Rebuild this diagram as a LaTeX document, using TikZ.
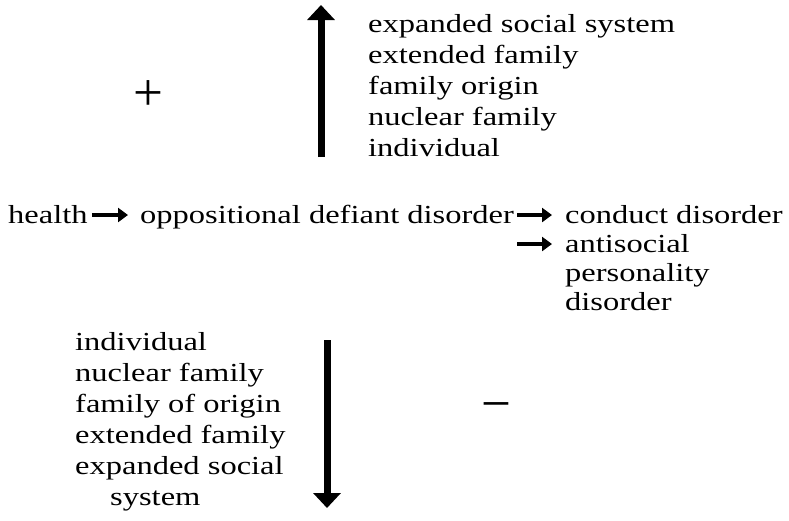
\documentclass[tikz,border=0pt]{standalone}
\usepackage{fontspec}
\setmainfont{Liberation Serif}[FakeStretch=1.25]
\newfontfamily\symfont{Liberation Serif}
\usetikzlibrary{arrows.meta}
\begin{document}
\begin{tikzpicture}[x=1pt,y=-1pt,
  lbl/.style={anchor=base west, inner sep=0pt, font=\fontsize{26}{31}\selectfont},
  sym/.style={anchor=base, inner sep=0pt, font=\symfont\fontsize{53}{53}\selectfont},
  vbig/.style={line width=7pt, -{Triangle[width=27pt,length=15pt]}},
  hsmall/.style={line width=4pt, -{Triangle[width=14pt,length=10pt]}}]
\useasboundingbox (0,0) rectangle (789,520);

% middle row
\node[lbl] (health) at (8,223) {health};
\node[lbl] (odd) at (140,223) {oppositional defiant disorder};
\node[lbl] (cd) at (565,223) {conduct disorder};
\node[lbl] (asp1) at (565,252) {antisocial};
\node[lbl] (asp2) at (565,281) {personality};
\node[lbl] (asp3) at (565,310) {disorder};

\draw[hsmall, shorten <=4pt, shorten >=12pt] ([yshift=8pt]health.base east) -- ([yshift=8pt]odd.base west);
\draw[hsmall, shorten <=3pt, shorten >=13pt] ([yshift=8pt]odd.base east) -- ([yshift=8pt]cd.base west);
\coordinate (a2start) at (odd.base east |- asp1.base west);
\draw[hsmall, shorten <=3pt, shorten >=13pt] ([yshift=8pt]a2start) -- ([yshift=8pt]asp1.base west);

% upper block
\foreach \t [count=\i] in {expanded social system, extended family, family origin, nuclear family, individual}
  \node[lbl] (up\i) at (368,{32+31*(\i-1)}) {\t};
\coordinate (ub) at (321,157);
\coordinate (ut) at (321,5);
\draw[vbig] (ub) -- (ut);
\node[sym] (plus) at (148,110) {+};

% lower block
\foreach \t [count=\i] in {individual, nuclear family, family of origin, extended family, expanded social}
  \node[lbl] (lo\i) at (75,{350+31*(\i-1)}) {\t};
\node[lbl] (lo6) at (110,505) {system};
\coordinate (db) at (327,340);
\coordinate (dt) at (327,508);
\draw[vbig] (db) -- (dt);
\node[sym] (minus) at (496,421) {−};
\end{tikzpicture}
\end{document}
